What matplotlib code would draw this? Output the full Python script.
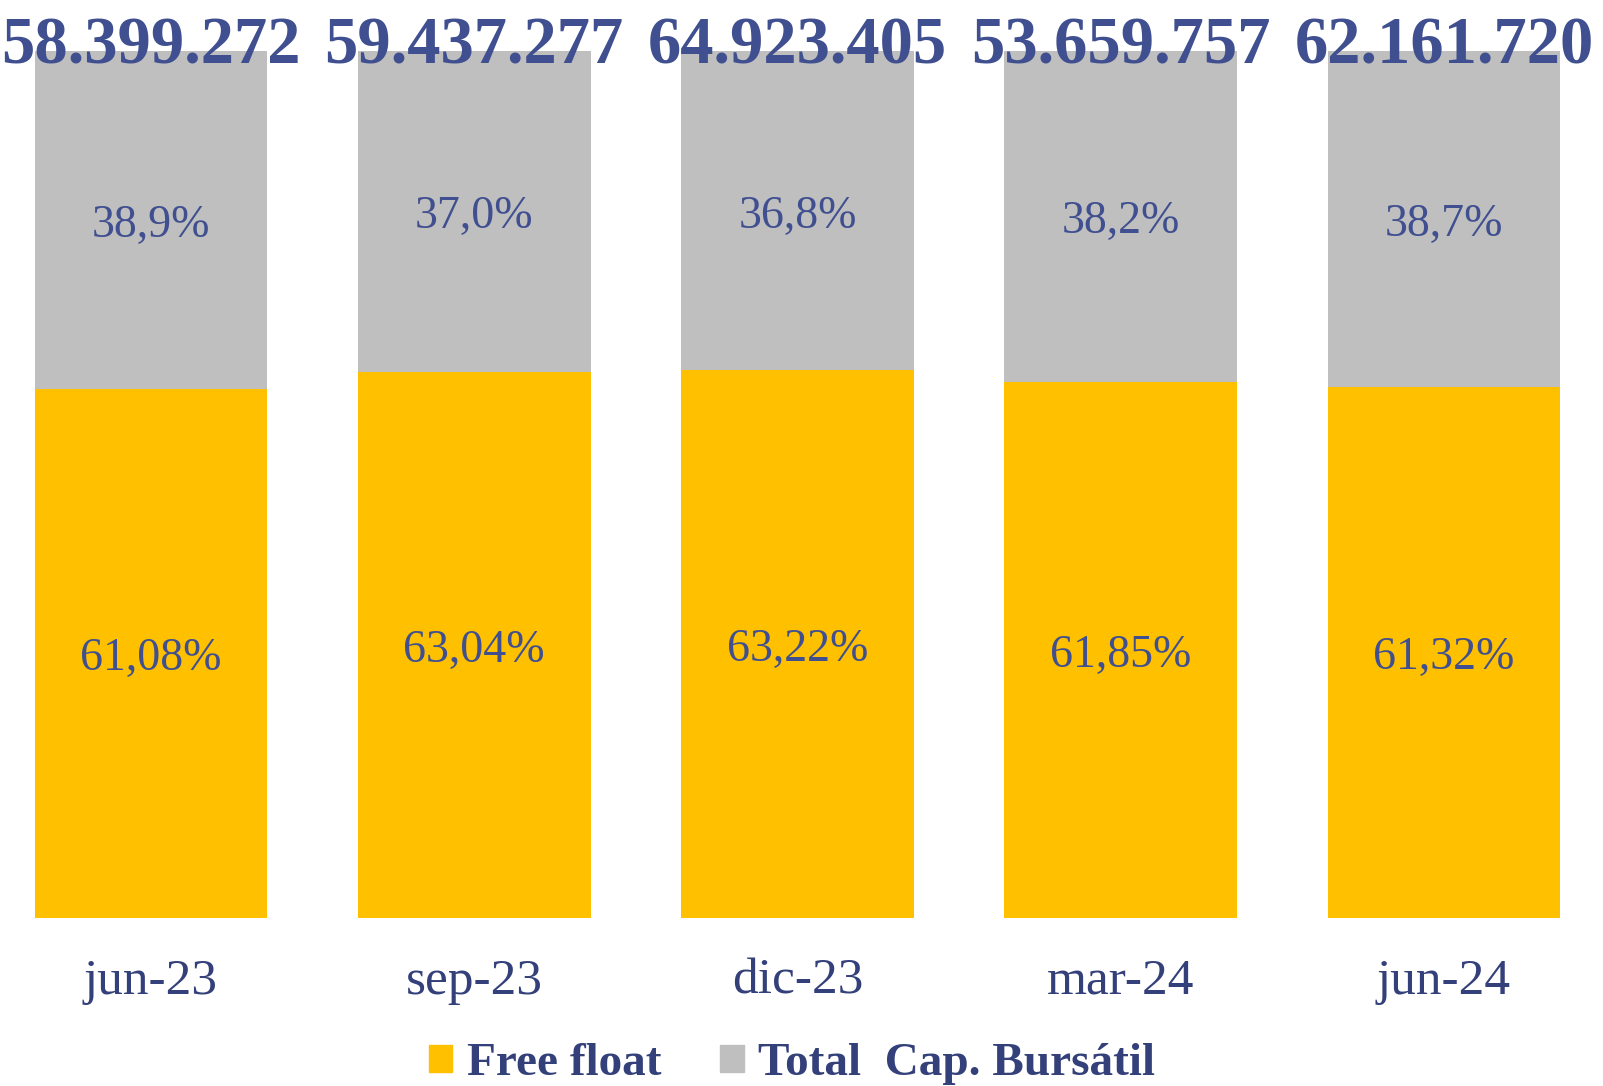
import matplotlib.pyplot as plt
from matplotlib.patches import Patch

# data
periods = ['jun-23', 'sep-23', 'dic-23', 'mar-24', 'jun-24']
free_float = [61.08, 63.04, 63.22, 61.85, 61.32]
rest_labels = ['38,9%', '37,0%', '36,8%', '38,2%', '38,7%']
ff_labels = ['61,08%', '63,04%', '63,22%', '61,85%', '61,32%']
total_cap = ['58.399.272', '59.437.277', '64.923.405', '53.659.757', '62.161.720']

yellow = '#FFC000'
grey = '#BFBFBF'
navy = '#404F8F'
dark_navy = '#34407A'

plt.rcParams['font.family'] = ['Liberation Serif', 'DejaVu Serif']

fig = plt.figure(figsize=(16.03, 10.86), dpi=100)
ax = fig.add_axes([0, 0.1547, 1, 0.798])

x = list(range(len(periods)))
rest = [100 - v for v in free_float]
ax.bar(x, free_float, width=0.72, color=yellow)
ax.bar(x, rest, width=0.72, bottom=free_float, color=grey)

for i in x:
    ax.annotate(ff_labels[i], xy=(i, free_float[i] / 2), xytext=(0, -4),
                textcoords='offset points', ha='center', va='center',
                fontsize=33, color=navy)
    ax.annotate(rest_labels[i], xy=(i, free_float[i] + rest[i] / 2), xytext=(0, -4),
                textcoords='offset points', ha='center', va='center',
                fontsize=33, color=navy)
    ax.annotate(total_cap[i], xy=(i, 100), xytext=(0, -9), textcoords='offset points',
                ha='center', va='baseline', fontsize=48, fontweight='bold', color=navy)

ax.set_xlim(-0.467, 4.492)
ax.set_ylim(0, 100)
ax.set_xticks(x)
ax.set_xticklabels(periods, fontsize=37, color=dark_navy)
ax.tick_params(axis='x', length=0, pad=29)
ax.set_yticks([])
for s in ax.spines.values():
    s.set_visible(False)

handles = [Patch(color=yellow, label='Free float'),
           Patch(color=grey, label='Total  Cap. Bursátil')]
leg = fig.legend(handles=handles, loc='center', bbox_to_anchor=(0.494, 0.02), ncol=2,
                 frameon=False, handlelength=0.5, handleheight=0.5,
                 handletextpad=0.3, columnspacing=1.25,
                 prop={'weight': 'bold', 'size': 34})
for t in leg.get_texts():
    t.set_color(dark_navy)

fig.savefig('out.png', dpi=100)
